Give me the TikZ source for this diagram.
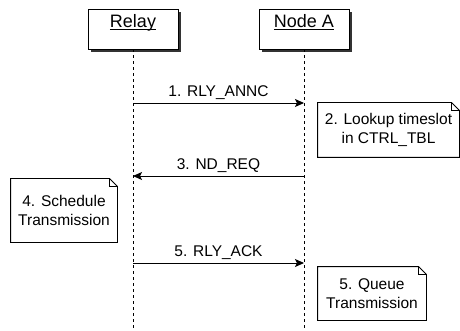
\documentclass[tikz,border=0pt]{standalone}
\usepackage{fontspec}
\setmainfont{Liberation Sans}
\usetikzlibrary{calc,arrows.meta,shadows}
\def\ulbl#1{\underline{\smash{#1}}}
\def\notebox(#1){\draw (#1.north west) -- ($(#1.north east)+(-8,0)$) -- ($(#1.north east)+(0,8)$) -- (#1.south east) -- (#1.south west) -- cycle;
  \draw ($(#1.north east)+(-8,0)$) -- ($(#1.north east)+(-8,8)$) -- ($(#1.north east)+(0,8)$);}

\begin{document}
\begin{tikzpicture}[x=1pt,y=-1pt,line width=0.9pt,
    head/.style={draw, fill=white, minimum width=90pt, minimum height=40pt, inner sep=0pt,
      font=\fontsize{18}{21}\selectfont,
      drop shadow={shadow xshift=3pt, shadow yshift=-3pt, fill=black!80, opacity=1}},
    lifeline/.style={dash pattern=on 3pt off 3pt},
    msg/.style={-{Stealth[length=9pt,width=8pt,inset=2pt]}},
    msglbl/.style={above, inner sep=3pt, font=\fontsize{15.5}{18}\selectfont},
    note/.style={inner sep=0pt, align=center, font=\fontsize{15.5}{18.5}\selectfont}]
			%%%%% START %%%%%
			\useasboundingbox (0,0) rectangle (460,331);

			\node[head] (relay) at (133, 29) {\ulbl{Relay}};
			\node[head] (nodea) at (304, 29) {\ulbl{Node A}};

			\draw[lifeline] (relay.south) -- (relay.south |- 0,331);
			\draw[lifeline] (nodea.south) -- (nodea.south |- 0,331);

			\coordinate (r1) at (relay.south |- 0,103);
			\coordinate (a1) at (nodea.south |- 0,103);
			\coordinate (r3) at (relay.south |- 0,176);
			\coordinate (a3) at (nodea.south |- 0,176);
			\coordinate (r5) at (relay.south |- 0,263);
			\coordinate (a5) at (nodea.south |- 0,263);

			\draw[msg] (r1) -- node[msglbl] {1. RLY\_ANNC} (a1);
			\draw[msg] (a3) -- node[msglbl] {3. ND\_REQ} (r3);
			\draw[msg] (r5) -- node[msglbl] {5. RLY\_ACK} (a5);

			\node[note, minimum width=141pt, minimum height=54pt] (lookup) at (388.5, 130) {2. Lookup timeslot\\in CTRL\_TBL};
			\node[note, minimum width=106pt, minimum height=63pt] (sched) at (64, 210.5) {4. Schedule\\Transmission};
			\node[note, minimum width=108pt, minimum height=53pt] (queue) at (372, 293.5) {5. Queue\\Transmission};

			\notebox(lookup)
			\notebox(sched)
			\notebox(queue)
			%%%%% END %%%%%
\end{tikzpicture}
\end{document}
